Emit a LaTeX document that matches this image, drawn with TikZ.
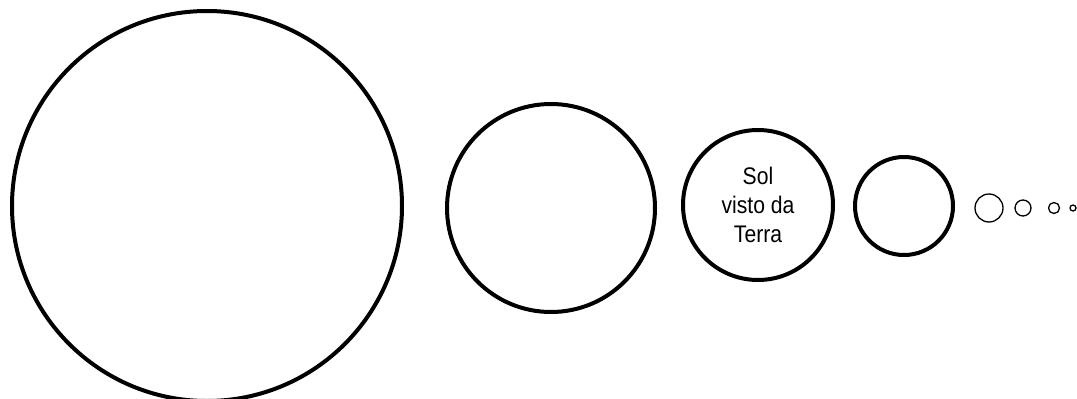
\documentclass[tikz,border=0pt]{standalone}
\usepackage{fontspec}
\setmainfont{Liberation Sans}[FakeStretch=0.88]
\begin{document}
\begin{tikzpicture}[x=1pt,y=-1pt,
  bigc/.style={draw=black,line width=4pt,circle,inner sep=0pt,fill=none},
  smallc/.style={draw=black,line width=1.3pt,circle,inner sep=0pt}]
\useasboundingbox (0,0) rectangle (1077,399);
\node[bigc,minimum size=390pt] (c1) at (207,206) {};
\node[bigc,minimum size=208pt] (c2) at (551,208) {};
\node[bigc,minimum size=150pt,align=center,font=\fontsize{24}{29}\selectfont] (c3) at (758,205) {Sol\\visto da\\Terra};
\node[bigc,minimum size=98pt] (c4) at (904,206) {};
\node[smallc,minimum size=28pt] (c5) at (989,208) {};
\node[smallc,minimum size=16pt] (c6) at (1023,208) {};
\node[smallc,minimum size=11pt] (c7) at (1054,208) {};
\node[smallc,minimum size=6pt] (c8) at (1073,208) {};
\end{tikzpicture}
\end{document}
